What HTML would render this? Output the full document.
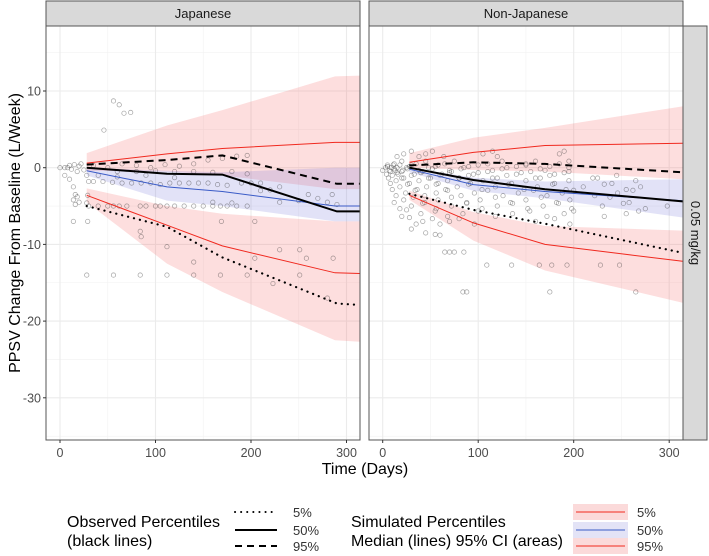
<!DOCTYPE html>
<html><head><meta charset="utf-8">
<style>
html,body{margin:0;padding:0;background:#fff;}
svg{display:block;font-family:"Liberation Sans",sans-serif;}
</style></head>
<body>
<svg id="chart" width="709" height="556" viewBox="0 0 709 556" xmlns="http://www.w3.org/2000/svg"></svg>
<script>
// ---- data ----
const panels = ["Japanese", "Non-Japanese"];
const xTicks = [0, 100, 200, 300];
const yTicks = [10, 0, -10, -20, -30];
// Japanese simulated medians
const jTime = [28, 112, 170, 288, 314];
const jSim05 = [-3.6, -7.5, -10.2, -13.7, -13.8];
const jSim50 = [-0.4, -2.5, -3.1, -5.0, -5.0];
const jSim95 = [0.6, 1.8, 2.5, 3.3, 3.3];
const jHiTop = [1.9, 5.5, 7.5, 11.9, 12.0];
const jHiBot = [-0.4, -0.5, -1.0, -2.8, -2.8];
const jMidTop = [0, -0.4, -0.6, 0, 0];
const jMidBot = [-1.0, -4.3, -5.0, -7.0, -7.0];
const jLoTop = [-2.7, -5.0, -6.0, -7.0, -7.0];
const jLoBot = [-4.5, -12.5, -16.2, -22.5, -22.7];
const jObsTime = [28, 112, 170, 290, 314];
const jObs05 = [-5.0, -7.7, -11.7, -17.7, -17.9];
const jObs50 = [0, -0.8, -0.9, -5.7, -5.7];
const jObs95 = [0.4, 1.0, 1.6, -2.1, -2.1];
// Non-Japanese
const nTime = [28, 95, 170, 314];
const nSim05 = [-3.6, -7.2, -10.0, -12.2];
const nSim50 = [-0.2, -2.2, -3.1, -4.3];
const nSim95 = [0.7, 2.0, 2.9, 3.2];
const nHiTop = [1.9, 3.9, 5.2, 8.0];
const nHiBot = [0, -0.3, -0.5, -1.5];
const nMidTop = [0, -1.3, -1.8, -1.5];
const nMidBot = [-0.6, -3.0, -4.0, -6.5];
const nLoTop = [-3.0, -5.8, -7.6, -8.2];
const nLoBot = [-4.2, -9.5, -13.4, -17.6];
const nObs05 = [-3.4, -5.5, -7.3, -11.1];
const nObs50 = [0, -1.6, -2.8, -4.4];
const nObs95 = [0.3, 0.7, 0.5, -0.6];
// observed individual points
const jPtsDay = [0,5,8,10,12,15,18,20,22,25,28,5,10,14,16,18,20,14,16,28,29,56,62,67,74,46,14,29,28,56,84,112,140,168,196,251,84,85,112,140,204,223,230,251,258,286,280,204,169,
  30,40,50,56,62,70,84,90,100,105,112,120,130,140,150,160,168,175,185,196,30,35,45,55,65,75,85,95,105,115,125,135,145,155,165,175,190,200,60,80,100,120,140,160,180,196,210,230,260,280,
  35,50,65,80,95,110,125,140,155,170,185,196,40,60,90,120,160,180,230,250,270,285,290,210,220];
const jPtsVal = [0,0,0,0.3,-0.2,0.4,-0.5,0.2,0.5,-0.3,-1,-1,-1.5,-2.5,-3.5,-3.8,-4.5,-4.2,-4.8,-4.6,-3.6,8.7,8.2,7.1,7.2,4.9,-7,-7,-14,-14,-14,-14,-14,-14,-14,-14,-8.3,-9,-10.3,-12.3,-11.8,-15.1,-10.7,-10.7,-11.8,-11.8,-17,-7,-7,
  -5,-5,-5,-5,-5,-5,-5,-5,-5,-5,-5,-5,-5,-5,-5,-5,-5,-5,-5,-5,-1.8,-1.8,-1.8,-1.9,-2,-2,-2,-2,-2.2,-2,-2,-2,-2,-2,-2.2,-2.3,-2,-2,-0.5,-0.5,-0.4,-0.5,-0.5,-0.6,-0.5,-0.8,-2,-2.5,-3.5,-4.5,
  0.3,0,0.5,0.3,0,0.4,0.2,0.5,1.0,1.2,1.5,1.6,-1,-1.2,-1,-1.3,-4.5,-4.6,-4.5,-4.3,-4.0,-3.5,-4.8,-3.0,-2.9];
const nRowVals = [1.8, 0.5, 0, -0.5, -1, -1.7, -2.5, -3.3, -4.2, -5.0, -6.0, -7.0];
const nRowDays = [
  [15,22,30,38,45,52,64,105,115,120,185,190],
  [5,12,20,28,35,45,55,65,75,90,110,125,140,150,160,175,185,195],
  [0,3,5,7,9,11,13,15,18,21,25,30,38,48,58,70,85,100,115,130,150,170,195],
  [4,8,12,16,20,26,33,42,52,62,72,82,95,110,125,140,155,165,180,195],
  [6,10,15,22,30,40,50,60,70,80,90,100,115,130,145,160,175,190,220,245],
  [8,14,20,28,38,48,58,68,80,92,105,120,135,150,165,180,195,225,240,265],
  [10,18,26,36,46,56,66,78,90,104,118,132,148,162,178,192,210,232,255,270],
  [14,24,34,44,56,68,82,96,110,126,142,158,172,188,200,222,246,262],
  [12,22,32,44,58,72,88,102,118,134,150,166,182,196,238,258],
  [18,30,42,56,72,88,104,120,136,152,168,184,198,230,252,275,298],
  [20,40,55,68,84,100,118,136,154,172,190,200,232,255,268],
  [35,42,52,60,70,80,96,160,180,196]
];
const nExtraDay = [30,45,55,60,65,70,75,85,109,135,164,177,193,228,248,84,88,175,265,25,28];
const nExtraVal = [-8,-8.5,-8.7,-8.8,-11,-11,-11,-11,-12.7,-12.7,-12.7,-12.7,-12.7,-12.7,-12.7,-16.2,-16.2,-16.2,-16.2,-5.5,-6.5];

// ---- layout ----
const svg = document.getElementById('chart');
const NS = 'http://www.w3.org/2000/svg';
const pxL = [46, 369], pxW = 314, topY = 26, botY = 440;
const x0 = [60, 382.7], xs = 0.955;
const yZero = 167.7, ys = 7.67;
function X(p, d) { return x0[p] + d * xs; }
function Y(v) { return yZero - v * ys; }
function el(tag, attrs, parent) {
  const e = document.createElementNS(NS, tag);
  for (const k in attrs) e.setAttribute(k, attrs[k]);
  (parent || svg).appendChild(e);
  return e;
}
function poly(p, t, a) { return t.map((d, i) => X(p, d).toFixed(1) + ',' + Y(a[i]).toFixed(1)).join(' '); }
function band(p, t, hi, lo, fill, name, parent) {
  const pts = t.map((d, i) => X(p, d) + ',' + Y(hi[i])).concat(t.map((d, i) => X(p, d) + ',' + Y(lo[i])).reverse()).join(' ');
  const e = el('polygon', { points: pts, fill: fill, stroke: 'none' }, parent);
  
  
}
function line(p, t, a, stroke, w, dash, name, parent) {
  const e = el('polyline', { points: poly(p, t, a), fill: 'none', stroke: stroke, 'stroke-width': w }, parent);
  if (dash) { e.setAttribute('stroke-dasharray', dash); }
  if (dash === '0.1,6') e.setAttribute('stroke-linecap', 'round');
  
  
}
const PINK = 'rgba(245,90,90,0.2)', BLUE = 'rgba(110,110,215,0.2)';

for (let p = 0; p < 2; p++) {
  const L = pxL[p];
  const g = el('g', {});
  
  
  el('rect', { x: L, y: topY, width: pxW, height: botY - topY, fill: '#fff' }, g);
  const clip = el('clipPath', { id: 'clip' + p }, g);
  el('rect', { x: L, y: topY, width: pxW, height: botY - topY }, clip);
  for (let v = -35; v <= 15; v += 10) el('line', { x1: L, x2: L + pxW, y1: Y(v), y2: Y(v), stroke: '#f2f2f2', 'stroke-width': 0.6 }, g);
  for (const d of [50, 150, 250]) el('line', { x1: X(p, d), x2: X(p, d), y1: topY, y2: botY, stroke: '#f2f2f2', 'stroke-width': 0.6 }, g);
  for (const v of yTicks) el('line', { x1: L, x2: L + pxW, y1: Y(v), y2: Y(v), stroke: '#ebebeb', 'stroke-width': 1.1 }, g);
  for (const d of xTicks) el('line', { x1: X(p, d), x2: X(p, d), y1: topY, y2: botY, stroke: '#ebebeb', 'stroke-width': 1.1 }, g);
  const c = el('g', { 'clip-path': 'url(#clip' + p + ')' }, g);
  if (p === 0) {
    band(0, jTime, jHiTop, jHiBot, PINK, 'ci-band-95', c);
    band(0, jTime, jMidTop, jMidBot, BLUE, 'ci-band-50', c);
    band(0, jTime, jLoTop, jLoBot, PINK, 'ci-band-5', c);
  } else {
    band(1, nTime, nHiTop, nHiBot, PINK, 'ci-band-95', c);
    band(1, nTime, nMidTop, nMidBot, BLUE, 'ci-band-50', c);
    band(1, nTime, nLoTop, nLoBot, PINK, 'ci-band-5', c);
  }
  const pg = el('g', { fill: 'none', stroke: 'rgba(50,50,50,0.45)', 'stroke-width': 0.7 }, c);
  
  
  if (p === 0) {
    jPtsDay.forEach((d, i) => el('circle', { cx: X(0, d), cy: Y(jPtsVal[i]), r: 2.2 }, pg));
  } else {
    nRowDays.forEach((row, r) => row.forEach((d, i) => el('circle', { cx: X(1, d), cy: Y(nRowVals[r] + ((i % 3) - 1) * 0.35), r: 2.2 }, pg)));
    nExtraDay.forEach((d, i) => el('circle', { cx: X(1, d), cy: Y(nExtraVal[i]), r: 2.2 }, pg));
  }
  if (p === 0) {
    line(0, jTime, jSim95, '#f0291f', 1, null, 'sim-95-line', c);
    line(0, jTime, jSim50, '#3a5bc7', 1, null, 'sim-50-line', c);
    line(0, jTime, jSim05, '#f0291f', 1, null, 'sim-5-line', c);
    line(0, jObsTime, jObs95, '#000', 2, '7,5', 'obs-95-line', c);
    line(0, jObsTime, jObs50, '#000', 2, null, 'obs-50-line', c);
    line(0, jObsTime, jObs05, '#000', 2.2, '0.1,6', 'obs-5-line', c);
  } else {
    line(1, nTime, nSim95, '#f0291f', 1, null, 'sim-95-line', c);
    line(1, nTime, nSim50, '#3a5bc7', 1, null, 'sim-50-line', c);
    line(1, nTime, nSim05, '#f0291f', 1, null, 'sim-5-line', c);
    line(1, nTime, nObs95, '#000', 2, '7,5', 'obs-95-line', c);
    line(1, nTime, nObs50, '#000', 2, null, 'obs-50-line', c);
    line(1, nTime, nObs05, '#000', 2.2, '0.1,6', 'obs-5-line', c);
  }
  el('rect', { x: L, y: topY, width: pxW, height: botY - topY, fill: 'none', stroke: '#555', 'stroke-width': 1 }, g);
  el('rect', { x: L, y: 1, width: pxW, height: topY - 1, fill: '#d9d9d9', stroke: '#555', 'stroke-width': 1 }, g);
  const st = el('text', { x: L + pxW / 2, y: 18, 'text-anchor': 'middle', 'font-size': 13, fill: '#1a1a1a' }, g);
  st.textContent = panels[p];
  for (const d of xTicks) {
    el('line', { x1: X(p, d), x2: X(p, d), y1: botY, y2: botY + 3, stroke: '#333' }, g);
    const t = el('text', { x: X(p, d), y: botY + 17, 'text-anchor': 'middle', 'font-size': 12.5, fill: '#4d4d4d' }, g);
    t.textContent = d;
  }
}
for (const v of yTicks) {
  el('line', { x1: 43, x2: 46, y1: Y(v), y2: Y(v), stroke: '#333' });
  const t = el('text', { x: 41, y: Y(v) + 4.5, 'text-anchor': 'end', 'font-size': 12.5, fill: '#4d4d4d' });
  t.textContent = v;
}
const rs = el('rect', { x: 683, y: topY, width: 24, height: botY - topY, fill: '#d9d9d9', stroke: '#555', 'stroke-width': 1 });


const rt = el('text', { x: 0, y: 0, transform: 'translate(691,233) rotate(90)', 'text-anchor': 'middle', 'font-size': 13, fill: '#1a1a1a' });
rt.textContent = '0.05 mg/kg';


const yl = el('text', { x: 0, y: 0, transform: 'translate(20,233) rotate(-90)', 'text-anchor': 'middle', 'font-size': 16, fill: '#000' });
yl.textContent = 'PPSV Change From Baseline (L/Week)';


const xl = el('text', { x: 365, y: 474, 'text-anchor': 'middle', 'font-size': 16, fill: '#000' });
xl.textContent = 'Time (Days)';



const lg = el('g', {});


function txt(x, y, s, size, parent) { const t = el('text', { x: x, y: y, 'font-size': size, fill: '#000' }, parent); t.textContent = s; return t; }
txt(67, 527, 'Observed Percentiles', 16, lg);
txt(67, 546, '(black lines)', 16, lg);
const keyY = [512, 530, 546], keyLab = ['5%', '50%', '95%'];
const dashes = ['0.1,6', null, '7,5'];
keyY.forEach((y, i) => {
  const l = el('line', { x1: 235, x2: 277, y1: y, y2: y, stroke: '#000', 'stroke-width': 2 }, lg);
  if (dashes[i]) l.setAttribute('stroke-dasharray', dashes[i]);
  if (i === 0) l.setAttribute('stroke-linecap', 'round');
  
  
  txt(293, y + 5, keyLab[i], 13, lg).setAttribute('fill', '#333');
});
txt(351, 527, 'Simulated Percentiles', 16, lg);
const t2 = txt(351, 546, 'Median (lines) 95% CI (areas)', 16, lg);
t2.setAttribute('textLength', 212);
const simFill = ['#fbdada', '#e3e3f6', '#fbdada'], simCol = ['#f0291f', '#3a5bc7', '#f0291f'];
keyY.forEach((y, i) => {
  el('rect', { x: 573, y: y - 8, width: 55, height: 16, fill: simFill[i] }, lg);
  const l = el('line', { x1: 576, x2: 625, y1: y, y2: y, stroke: simCol[i], 'stroke-width': 1 }, lg);
  
  
  txt(637, y + 5, keyLab[i], 13, lg).setAttribute('fill', '#333');
});
</script>
</body></html>
